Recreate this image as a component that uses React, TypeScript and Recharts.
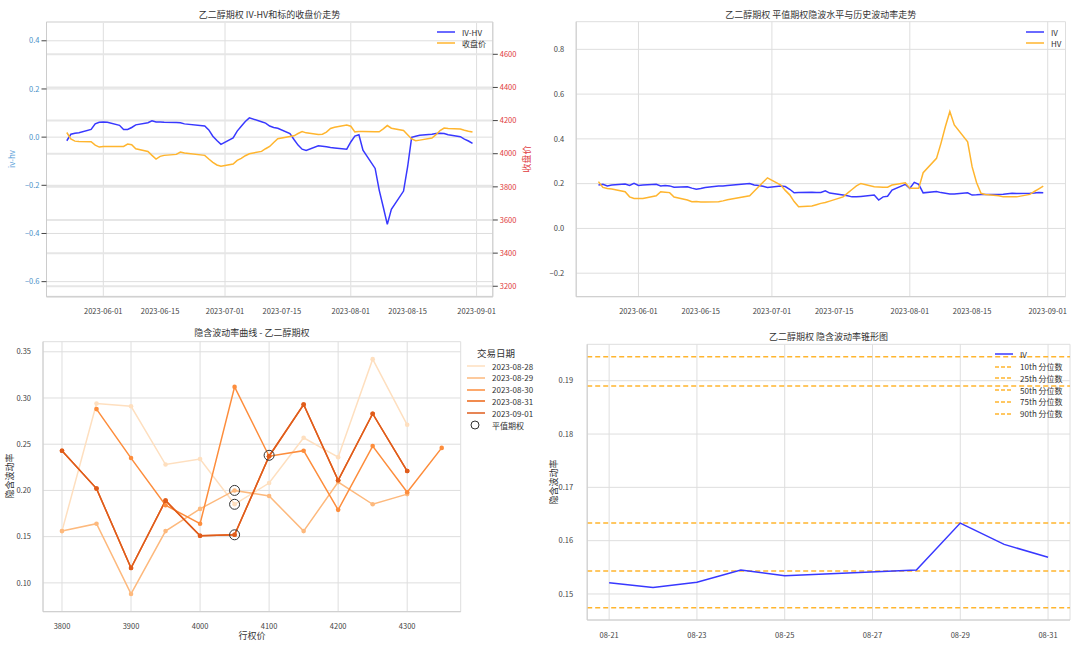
import React from 'react';
import { ComposedChart, Line, XAxis, YAxis, CartesianGrid, ReferenceLine } from 'recharts';

// ---------- shared trading dates (top charts) ----------
const tradeDates = [
  '2023-05-23','2023-05-24','2023-05-25','2023-05-26','2023-05-29','2023-05-30','2023-05-31',
  '2023-06-01','2023-06-02','2023-06-05','2023-06-06','2023-06-07','2023-06-08','2023-06-09','2023-06-12','2023-06-13','2023-06-14','2023-06-15','2023-06-16','2023-06-19','2023-06-20','2023-06-21','2023-06-26','2023-06-27','2023-06-28','2023-06-29','2023-06-30',
  '2023-07-03','2023-07-04','2023-07-05','2023-07-06','2023-07-07','2023-07-10','2023-07-11','2023-07-12','2023-07-13','2023-07-14','2023-07-17','2023-07-18','2023-07-19','2023-07-20','2023-07-21','2023-07-24','2023-07-25','2023-07-26','2023-07-27','2023-07-28','2023-07-31',
  '2023-08-01','2023-08-02','2023-08-03','2023-08-04','2023-08-07','2023-08-08','2023-08-09','2023-08-10','2023-08-11','2023-08-14','2023-08-15','2023-08-16','2023-08-17','2023-08-18','2023-08-21','2023-08-22','2023-08-23','2023-08-24','2023-08-25','2023-08-28','2023-08-29','2023-08-30','2023-08-31',
];

const ivhvValues = [
  -0.015, 0.012, 0.016, 0.018, 0.032, 0.055, 0.062,
  0.063, 0.062, 0.049, 0.032, 0.032, 0.040, 0.051, 0.060, 0.068, 0.063, 0.063, 0.062, 0.061, 0.060, 0.055, 0.046, 0.030, 0.004, -0.014, -0.030,
  -0.003, 0.025, 0.045, 0.065, 0.080, 0.064, 0.058, 0.046, 0.040, 0.037, 0.015, -0.010, -0.033, -0.050, -0.055, -0.036, -0.038, -0.040, -0.043, -0.045, -0.050,
  -0.020, 0.004, 0.010, -0.054, -0.130, -0.220, -0.290, -0.362, -0.300, -0.224, -0.124, -0.001, 0.004, 0.008, 0.012, 0.015, 0.016, 0.015, 0.010, 0.002, -0.008, -0.016, -0.026,
];

const closeValues = [
  4128, 4089, 4076, 4074, 4072, 4052, 4040,
  4044, 4044, 4044, 4044, 4058, 4054, 4030, 4014, 3990, 3968, 3984, 3990, 3996, 4010, 4004, 3990, 3968, 3948, 3932, 3924,
  3938, 3960, 3972, 3988, 4000, 4014, 4030, 4044, 4068, 4090, 4104, 4108, 4122, 4134, 4126, 4116, 4118, 4130, 4152, 4160, 4173,
  4166, 4132, 4134, 4134, 4133, 4132, 4150, 4170, 4154, 4140, 4115, 4089, 4078, 4082, 4095, 4115, 4140, 4155, 4152, 4149, 4142, 4136, 4131,
];

const ivValues = [
  0.194, 0.197, 0.190, 0.194, 0.198, 0.192, 0.201,
  0.192, 0.194, 0.197, 0.190, 0.192, 0.190, 0.184, 0.186, 0.180, 0.175, 0.178, 0.183, 0.189, 0.190, 0.192, 0.201, 0.194, 0.192, 0.188, 0.183,
  0.190, 0.187, 0.175, 0.159, 0.160, 0.162, 0.161, 0.161, 0.168, 0.158, 0.149, 0.146, 0.141, 0.141, 0.143, 0.149, 0.127, 0.141, 0.144, 0.171, 0.197,
  0.179, 0.206, 0.197, 0.159, 0.165, 0.160, 0.157, 0.154, 0.154, 0.159, 0.149, 0.150, 0.152, 0.152, 0.152, 0.153, 0.155, 0.157, 0.156, 0.157, 0.158, 0.160, 0.159,
];

const hvValues = [
  0.209, 0.183, 0.178, 0.176, 0.164, 0.141, 0.134,
  0.134, 0.134, 0.146, 0.164, 0.162, 0.160, 0.140, 0.127, 0.119, 0.120, 0.118, 0.118, 0.119, 0.123, 0.128, 0.146, 0.166, 0.186, 0.206, 0.226,
  0.194, 0.170, 0.150, 0.120, 0.097, 0.100, 0.106, 0.112, 0.116, 0.122, 0.141, 0.158, 0.174, 0.190, 0.201, 0.186, 0.185, 0.184, 0.184, 0.194, 0.204,
  0.179, 0.179, 0.179, 0.249, 0.313, 0.380, 0.455, 0.522, 0.462, 0.387, 0.276, 0.205, 0.157, 0.152, 0.146, 0.141, 0.141, 0.141, 0.141, 0.152, 0.165, 0.177, 0.189,
];

const dateTicks = ['2023-06-01','2023-06-15','2023-07-01','2023-07-15','2023-08-01','2023-08-15','2023-09-01'];
const dateDomain = ['2023-05-18', '2023-09-05'];
const ivhvTicks = [-0.6, -0.4, -0.2, 0, 0.2, 0.4];
const priceTicks = [3200, 3400, 3600, 3800, 4000, 4200, 4400, 4600];
const volTicks = [-0.2, 0, 0.2, 0.4, 0.6, 0.8];

// ---------- volatility smile ----------
const strikes = [3800, 3850, 3900, 3950, 4000, 4050, 4100, 4150, 4200, 4250, 4300, 4350];
const smile0828 = [0.156, 0.294, 0.291, 0.228, 0.234, 0.185, 0.208, 0.257, 0.236, 0.342, 0.271, null];
const smile0829 = [0.156, 0.164, 0.088, 0.156, 0.180, 0.200, 0.194, 0.156, 0.209, 0.185, 0.196, null];
const smile0830 = [null, 0.288, 0.235, 0.184, 0.164, 0.312, 0.237, 0.243, 0.179, 0.248, 0.198, 0.246];
const smile0831 = [0.243, 0.202, 0.116, 0.189, 0.151, 0.152, 0.237, 0.293, 0.211, 0.283, 0.221, null];
const smile0901 = [0.243, 0.202, 0.116, 0.189, 0.151, 0.152, 0.237, 0.293, 0.211, 0.283, 0.221, null];
const smileDates = ['2023-08-28', '2023-08-29', '2023-08-30', '2023-08-31', '2023-09-01'];
const smileSeries = [smile0828, smile0829, smile0830, smile0831, smile0901];
const smileColors = ['#fedfbf', '#fdb97d', '#fd8d3c', '#ec6414', '#df5c1c'];
const atmStrikes = [4050, 4050, 4050, 4100];
const atmIVs = [0.185, 0.200, 0.152, 0.238];
const strikeTicks = [3800, 3900, 4000, 4100, 4200, 4300];
const smileYTicks = [0.10, 0.15, 0.20, 0.25, 0.30, 0.35];

// ---------- volatility cone ----------
const coneDates = ['2023-08-21','2023-08-22','2023-08-23','2023-08-24','2023-08-25','2023-08-28','2023-08-29','2023-08-30','2023-08-31'];
const coneIV = [0.1521, 0.1512, 0.1522, 0.1545, 0.1534, 0.1545, 0.1633, 0.1593, 0.1569];
const quantileLabels = ['10th 分位数', '25th 分位数', '50th 分位数', '75th 分位数', '90th 分位数'];
const quantileValues = [0.1474, 0.1543, 0.1633, 0.1890, 0.1945];
const coneTicks = ['2023-08-21','2023-08-23','2023-08-25','2023-08-27','2023-08-29','2023-08-31'];
const coneYTicks = [0.15, 0.16, 0.17, 0.18, 0.19];

// ---------- helpers ----------
const FONT = '"Noto Sans CJK SC", "DejaVu Sans", sans-serif';
const DAY = 86400000;
const T = (d: string) => Date.parse(d);
const signed = (v: number, d: number) => (v < 0 ? '\u2212' : '') + Math.abs(v).toFixed(d);
const fmtDate = (t: number) => new Date(t).toISOString().slice(0, 10);
const GRID = '#dedede';
const FRAME = '#cccccc';
const BLUE = '#3838ff';
const ORANGE = '#ffb52e';
const tickStyle = { fontSize: 7.5, fill: '#444', fontFamily: FONT };

const tsData = tradeDates.map((d, i) => ({
  t: T(d), ivhv: ivhvValues[i], close: closeValues[i], iv: ivValues[i], hv: hvValues[i],
}));

const coneBase = T('2023-08-21');
const coneData = coneDates.map((d, i) => ({ x: (T(d) - coneBase) / DAY, iv: coneIV[i] }));

const Title = ({ x, w, y, text }: any) => (
  <div style={{ position: 'absolute', left: x, top: y, width: w, textAlign: 'center', fontSize: 9, color: '#333', lineHeight: '12px', whiteSpace: 'nowrap' }}>{text}</div>
);

const VLabel = ({ cx, cy, text, color, size = 9 }: any) => (
  <div style={{ position: 'absolute', left: cx - 50, top: cy - 6, width: 100, height: 12, lineHeight: '12px', textAlign: 'center', transform: 'rotate(-90deg)', fontSize: size, color, whiteSpace: 'nowrap' }}>{text}</div>
);

const LegendRow = ({ x, y, color, label, dashed, circle }: any) => (
  <div style={{ position: 'absolute', left: x, top: y - 6, height: 12, display: 'flex', alignItems: 'center', fontSize: 8, color: '#333', whiteSpace: 'nowrap' }}>
    <svg width={20} height={12} style={{ marginRight: 6 }}>
      {circle ? (
        <circle cx={9} cy={6} r={4} fill="none" stroke="#333" strokeWidth={1} />
      ) : (
        <line x1={1} x2={19} y1={6} y2={6} stroke={color} strokeWidth={1.5} strokeDasharray={dashed ? '4 2' : undefined} />
      )}
    </svg>
    <span>{label}</span>
  </div>
);

export default function App() {
  const tDomain = [T(dateDomain[0]), T(dateDomain[1])];
  const tTicks = dateTicks.map(T);

  return (
    <div style={{ position: 'absolute', left: 0, top: 0, width: 1080, height: 646, background: '#fff', fontFamily: FONT, overflow: 'hidden' }}>
      {/* ---------- Top-left: IV-HV & close ---------- */}
      <Title x={46.5} w={446} y={8.5} text="乙二醇期权 IV-HV和标的收盘价走势" />
      <div style={{ position: 'absolute', left: 0, top: 0 }}>
        <ComposedChart width={540} height={320} data={tsData} margin={{ top: 22, right: 7.2, bottom: 3.3, left: 6.5 }}>
          <CartesianGrid yAxisId="l" stroke={GRID} strokeWidth={1} />
          <CartesianGrid yAxisId="r" vertical={false} stroke="#e6e6e6" strokeWidth={2} />
          <XAxis dataKey="t" type="number" domain={tDomain} ticks={tTicks} tickFormatter={fmtDate}
            tick={tickStyle} tickLine={false} axisLine={{ stroke: FRAME }} height={20} tickMargin={6} allowDataOverflow />
          <XAxis xAxisId="top" orientation="top" type="number" domain={[0, 1]} tick={false} tickLine={false} axisLine={{ stroke: FRAME }} height={0} />
          <YAxis yAxisId="l" type="number" domain={[-0.6625, 0.478]} ticks={ivhvTicks} tickFormatter={(v: number) => signed(v, 1)}
            tick={{ ...tickStyle, fill: '#4a90c8' }} tickLine={{ stroke: '#444' }} tickSize={5} axisLine={{ stroke: FRAME }} width={40} allowDataOverflow />
          <YAxis yAxisId="r" orientation="right" type="number" domain={[3137, 4795]} ticks={priceTicks}
            tick={{ ...tickStyle, fill: '#e0393b' }} tickLine={{ stroke: '#444' }} tickSize={5} axisLine={{ stroke: FRAME }} width={40} allowDataOverflow />
          <Line yAxisId="l" dataKey="ivhv" stroke={BLUE} strokeWidth={1.5} dot={false} isAnimationActive={false} />
          <Line yAxisId="r" dataKey="close" stroke={ORANGE} strokeWidth={1.5} dot={false} isAnimationActive={false} />
        </ComposedChart>
      </div>
      <VLabel cx={12} cy={159} text="iv-hv" color="#5aa0d8" size={8} />
      <VLabel cx={527} cy={159} text="收盘价" color="#e0393b" />
      <LegendRow x={436} y={32} color={BLUE} label="IV-HV" />
      <LegendRow x={436} y={43} color={ORANGE} label="收盘价" />

      {/* ---------- Top-right: IV & HV ---------- */}
      <Title x={576.2} w={489.3} y={9} text="乙二醇期权 平值期权隐波水平与历史波动率走势" />
      <div style={{ position: 'absolute', left: 540, top: 0 }}>
        <ComposedChart width={540} height={320} data={tsData} margin={{ top: 21.7, right: 14.5, bottom: 3.3, left: 6.2 }}>
          <CartesianGrid stroke={GRID} strokeWidth={1} />
          <XAxis dataKey="t" type="number" domain={tDomain} ticks={tTicks} tickFormatter={fmtDate}
            tick={tickStyle} tickLine={false} axisLine={{ stroke: FRAME }} height={20} tickMargin={6} allowDataOverflow />
          <XAxis xAxisId="top" orientation="top" type="number" domain={[0, 1]} tick={false} tickLine={false} axisLine={{ stroke: FRAME }} height={0} />
          <YAxis type="number" domain={[-0.305, 0.9235]} ticks={volTicks} tickFormatter={(v: number) => signed(v, 1)}
            tick={tickStyle} tickLine={false} axisLine={{ stroke: FRAME }} width={30} tickMargin={6} allowDataOverflow />
          <YAxis yAxisId="rb" orientation="right" type="number" domain={[0, 1]} tick={false} tickLine={false} axisLine={{ stroke: FRAME }} width={0} />
          <Line dataKey="iv" stroke={BLUE} strokeWidth={1.5} dot={false} isAnimationActive={false} />
          <Line dataKey="hv" stroke={ORANGE} strokeWidth={1.5} dot={false} isAnimationActive={false} />
        </ComposedChart>
      </div>
      <LegendRow x={1025} y={32} color={BLUE} label="IV" />
      <LegendRow x={1025} y={43} color={ORANGE} label="HV" />

      {/* ---------- Bottom-left: smile ---------- */}
      <Title x={43} w={417.7} y={327} text="隐含波动率曲线 - 乙二醇期权" />
      <div style={{ position: 'absolute', left: 0, top: 320 }}>
        <ComposedChart width={540} height={326} margin={{ top: 21.7, right: 79.3, bottom: 14.3, left: 8 }}>
          <CartesianGrid stroke={GRID} strokeWidth={1} />
          <XAxis dataKey="strike" type="number" domain={[3772.5, 4377.5]} ticks={strikeTicks}
            tick={tickStyle} tickLine={false} axisLine={{ stroke: FRAME }} height={20} tickMargin={6} allowDataOverflow />
          <XAxis xAxisId="top" orientation="top" type="number" domain={[0, 1]} tick={false} tickLine={false} axisLine={{ stroke: FRAME }} height={0} />
          <YAxis type="number" domain={[0.0688, 0.3609]} ticks={smileYTicks} tickFormatter={(v: number) => v.toFixed(2)}
            tick={tickStyle} tickLine={false} axisLine={{ stroke: FRAME }} width={35} tickMargin={6} allowDataOverflow />
          <YAxis yAxisId="rb" orientation="right" type="number" domain={[0, 1]} tick={false} tickLine={false} axisLine={{ stroke: FRAME }} width={0} />
          {smileSeries.map((s, k) => (
            <Line key={smileDates[k]} data={strikes.map((x, i) => ({ strike: x, iv: s[i] })).filter((p) => p.iv !== null)}
              dataKey="iv" stroke={smileColors[k]} strokeWidth={1.5}
              dot={{ r: 2.3, fill: smileColors[k], stroke: smileColors[k], strokeWidth: 0 }} isAnimationActive={false} />
          ))}
          <Line data={atmStrikes.map((x, i) => ({ strike: x, iv: atmIVs[i] }))} dataKey="iv" stroke="none"
            dot={{ r: 5, fill: 'none', stroke: '#333', strokeWidth: 1 }} isAnimationActive={false} />
        </ComposedChart>
      </div>
      <VLabel cx={10} cy={476} text="隐含波动率" color="#333" />
      <div style={{ position: 'absolute', left: 202, width: 100, top: 630, textAlign: 'center', fontSize: 9, color: '#333', lineHeight: '12px' }}>行权价</div>
      <div style={{ position: 'absolute', left: 466, width: 60, top: 347, textAlign: 'center', fontSize: 9.5, color: '#333', lineHeight: '12px' }}>交易日期</div>
      {smileDates.map((d, k) => (
        <LegendRow key={d} x={466} y={366 + k * 11.8} color={smileColors[k]} label={d} />
      ))}
      <LegendRow x={466} y={425} circle label="平值期权" />

      {/* ---------- Bottom-right: cone ---------- */}
      <Title x={587.2} w={482.8} y={330.5} text="乙二醇期权 隐含波动率锥形图" />
      <div style={{ position: 'absolute', left: 540, top: 320 }}>
        <ComposedChart width={540} height={326} data={coneData} margin={{ top: 24.3, right: 10, bottom: 6, left: 7.2 }}>
          <CartesianGrid stroke={GRID} strokeWidth={1} />
          <XAxis dataKey="x" type="number" domain={[-0.5, 10.5]} ticks={coneTicks.map((d) => (T(d) - coneBase) / DAY)}
            tickFormatter={(v: number) => fmtDate(coneBase + v * DAY).slice(5)}
            tick={tickStyle} tickLine={false} axisLine={{ stroke: FRAME }} height={20} tickMargin={7} allowDataOverflow />
          <XAxis xAxisId="top" orientation="top" type="number" domain={[0, 1]} tick={false} tickLine={false} axisLine={{ stroke: FRAME }} height={0} />
          <YAxis type="number" domain={[0.14512, 0.19683]} ticks={coneYTicks} tickFormatter={(v: number) => v.toFixed(2)}
            tick={tickStyle} tickLine={false} axisLine={{ stroke: FRAME }} width={40} tickMargin={8} allowDataOverflow />
          <YAxis yAxisId="rb" orientation="right" type="number" domain={[0, 1]} tick={false} tickLine={false} axisLine={{ stroke: FRAME }} width={0} />
          {quantileValues.map((q, k) => (
            <ReferenceLine key={quantileLabels[k]} y={q} stroke={ORANGE} strokeWidth={1.5} strokeDasharray="5 3" ifOverflow="extendDomain" />
          ))}
          <Line dataKey="iv" stroke={BLUE} strokeWidth={1.5} dot={false} isAnimationActive={false} />
        </ComposedChart>
      </div>
      <VLabel cx={554} cy={482} text="隐含波动率" color="#333" />
      <LegendRow x={994} y={354.3} color={BLUE} label="IV" />
      {quantileLabels.map((l, k) => (
        <LegendRow key={l} x={994} y={366.5 + k * 11.75} color={ORANGE} dashed label={l} />
      ))}
    </div>
  );
}
